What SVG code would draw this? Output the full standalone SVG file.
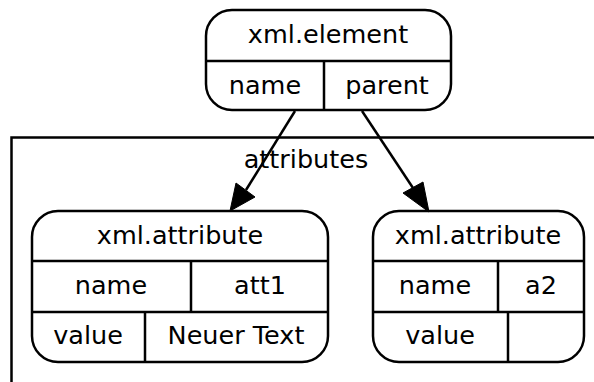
<svg xmlns="http://www.w3.org/2000/svg" width="594" height="382" viewBox="0 0 594 382">
  <style>
    .box { fill: #ffffff; stroke: #000000; stroke-width: 2.5; }
    .ln { fill: none; stroke: #000000; stroke-width: 2.5; }
    .edge { fill: none; stroke: #000000; stroke-width: 2.5; }
    .head { fill: #000000; stroke: #000000; stroke-width: 1; }
    text { font-family: "DejaVu Sans", sans-serif; font-size: 25.5px; fill: #000000; text-anchor: middle; }
  </style>
  <rect width="594" height="382" fill="#ffffff"/>

  <!-- cluster "attributes" -->
  <g id="cluster_attributes">
    <path class="ln" d="M11.5,382 L11.5,137.5 L594,137.5"/>
    <text x="306" y="168">attributes</text>
  </g>

  <!-- xml.element -->
  <g id="node_element">
    <rect class="box" x="206" y="10" width="245" height="100" rx="26" ry="26"/>
    <path class="ln" d="M206,61 L451,61 M324,61 L324,110"/>
    <text x="328" y="43">xml.element</text>
    <text x="265" y="94">name</text>
    <text x="387" y="94">parent</text>
  </g>

  <!-- xml.attribute att1 -->
  <g id="node_att1">
    <rect class="box" x="32" y="211" width="296" height="151" rx="26" ry="26"/>
    <path class="ln" d="M32,261 L328,261 M32,312 L328,312 M191,261 L191,312 M145,312 L145,362"/>
    <text x="180" y="244">xml.attribute</text>
    <text x="111" y="294">name</text>
    <text x="260" y="294">att1</text>
    <text x="88" y="344">value</text>
    <text x="236" y="344">Neuer Text</text>
  </g>

  <!-- xml.attribute a2 -->
  <g id="node_a2">
    <rect class="box" x="373" y="211" width="211" height="151" rx="26" ry="26"/>
    <path class="ln" d="M373,261 L584,261 M373,312 L584,312 M498,261 L498,312 M508,312 L508,362"/>
    <text x="478" y="244">xml.attribute</text>
    <text x="435" y="294">name</text>
    <text x="541" y="294">a2</text>
    <text x="440" y="344">value</text>
  </g>

  <!-- connectors -->
  <g id="edges">
    <line class="edge" x1="295" y1="111" x2="246" y2="190"/>
    <polygon class="head" points="230,211 236,183 255,197"/>
    <line class="edge" x1="362" y1="111" x2="413" y2="188"/>
    <polygon class="head" points="429,212 403,193 423,182"/>
  </g>
</svg>
